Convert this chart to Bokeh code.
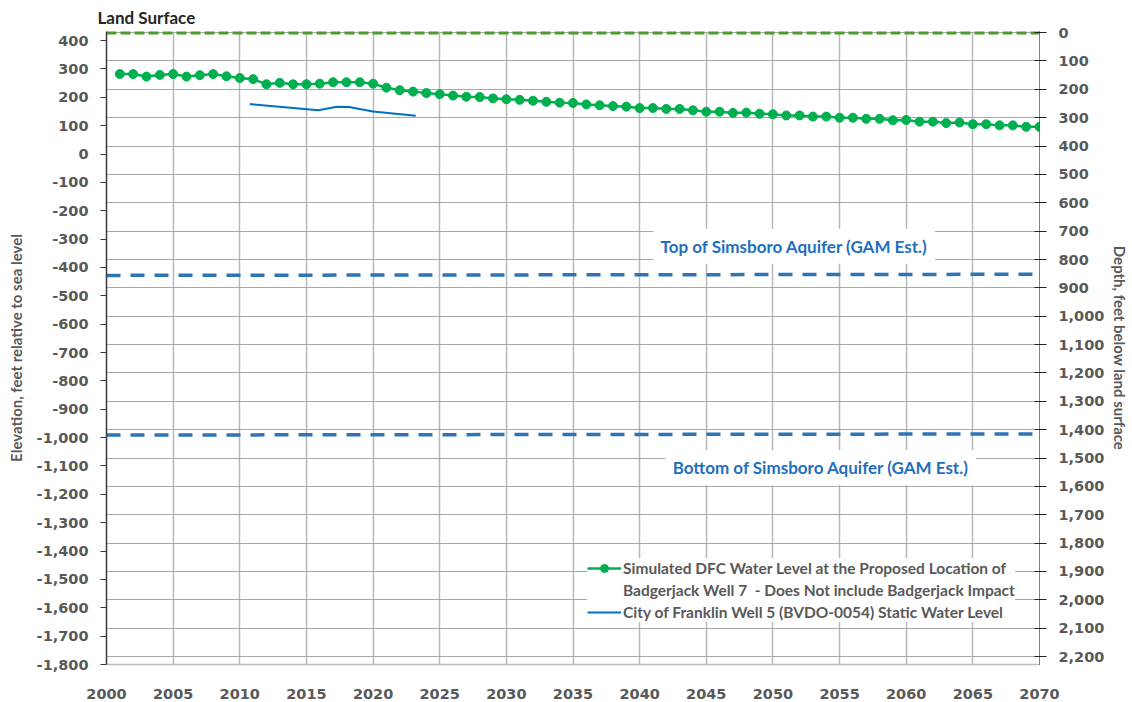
from bokeh.plotting import figure
from bokeh.models import (Range1d, LinearAxis, FixedTicker, NumeralTickFormatter,
                          Legend, LegendItem, Label, Grid)
from bokeh.embed import file_html
from bokeh.resources import INLINE

# ---------------- data ----------------
years = list(range(2001, 2071))
dfc_level = [282, 282, 273, 279, 282, 273, 278, 282, 274, 268,
             264, 246, 251, 246, 246, 248, 253, 253, 253, 248,
             234, 225, 220, 215, 211, 206, 202, 201, 196, 193,
             191, 188, 184, 181, 180, 175, 172, 169, 167, 162,
             162, 159, 159, 154, 149, 149, 145, 146, 142, 140,
             136, 136, 132, 132, 128, 128, 124, 124, 119, 120,
             114, 114, 109, 111, 105, 105, 101, 101, 96, 96]

well_years = [2010.75, 2015.9, 2017.3, 2018.2, 2020.0, 2023.2]
well_level = [176, 154, 167, 166, 150, 135]

land_surface = 428
line_years = [2000, 2070]
land_level = [428, 428]
top_simsboro = [-428, -424]
bottom_simsboro = [-991, -987]

elev_ticks = list(range(-1800, 401, 100))
depth_ticks = list(range(0, 2201, 100))
year_ticks = list(range(2000, 2071, 5))

# ---------------- styles ----------------
GREEN = "#00b050"
BLUE = "#0070c0"
DASH_BLUE = "#2e75b6"
LAND_GREEN = "#4e9a2e"
TXT = "#595959"
TICK_FONT = "DejaVu Sans"
FONT = "Lato"

y_end = 432
p = figure(width=1132, height=702, output_backend="svg", toolbar_location=None,
           x_range=Range1d(2000, 2070), y_range=Range1d(-1800, y_end),
           min_border_left=106, min_border_right=92, min_border_top=31,
           min_border_bottom=38)
p.extra_y_ranges = {"depth": Range1d(start=land_surface + 1800, end=land_surface - y_end)}
p.outline_line_color = None
p.background_fill_color = "white"

# title
p.title.text = "Land Surface"
p.title.text_font = FONT
p.title.text_font_style = "bold"
p.title.text_font_size = "17px"
p.title.text_color = "#262626"
p.title.offset = -9
p.title.standoff = 8

# x axis
xa = p.xaxis[0]
xa.ticker = FixedTicker(ticks=year_ticks)
xa.axis_line_color = "#bdbdbd"
xa.axis_line_width = 1.5
xa.major_tick_line_color = None
xa.minor_tick_line_color = None
xa.major_label_standoff = 18
xa.major_label_text_font = TICK_FONT
xa.major_label_text_font_style = "bold"
xa.major_label_text_font_size = "14.5px"
xa.major_label_text_color = TXT

# left axis
ya = p.yaxis[0]
ya.ticker = FixedTicker(ticks=elev_ticks)
ya.formatter = NumeralTickFormatter(format="0,0")
ya.axis_line_color = "#3a3a3a"
ya.axis_line_width = 1.5
ya.major_tick_line_color = "#3a3a3a"
ya.major_tick_out = 6
ya.major_tick_in = 0
ya.minor_tick_line_color = None
ya.major_label_standoff = 12
ya.major_label_text_font = TICK_FONT
ya.major_label_text_font_style = "bold"
ya.major_label_text_font_size = "14.5px"
ya.major_label_text_color = TXT
ya.axis_label = "Elevation, feet relative to sea level"
ya.axis_label_text_font = FONT
ya.axis_label_text_font_style = "bold"
ya.axis_label_text_font_size = "15px"
ya.axis_label_text_color = TXT
ya.axis_label_standoff = 9

# right axis (depth)
ra = LinearAxis(y_range_name="depth", ticker=FixedTicker(ticks=depth_ticks),
                formatter=NumeralTickFormatter(format="0,0"))
ra.axis_line_color = "black"
ra.axis_line_width = 1
ra.axis_line_dash = "1 1"
ra.major_tick_line_color = "#222222"
ra.major_tick_in = 5
ra.major_tick_out = 7
ra.minor_tick_line_color = None
ra.major_label_standoff = 12
ra.major_label_text_font = TICK_FONT
ra.major_label_text_font_style = "bold"
ra.major_label_text_font_size = "14.5px"
ra.major_label_text_color = TXT
ra.axis_label = "Depth, feet below land surface"
ra.axis_label_text_font = FONT
ra.axis_label_text_font_style = "bold"
ra.axis_label_text_font_size = "15px"
ra.axis_label_text_color = TXT
ra.axis_label_standoff = 4
p.add_layout(ra, "right")

# grids: vertical at years, horizontal at depth ticks
p.xgrid.visible = False
p.ygrid.visible = False
vgrid = Grid(dimension=0, ticker=FixedTicker(ticks=year_ticks),
             grid_line_color="#b8b8b8", grid_line_width=1.5)
hgrid = Grid(dimension=1, ticker=FixedTicker(ticks=depth_ticks), y_range_name="depth",
             grid_line_color="#a8a8a8", grid_line_width=1.2)
p.add_layout(vgrid)
p.add_layout(hgrid)

# ---------------- glyphs ----------------
p.line(line_years, land_level, line_color=LAND_GREEN, line_width=3.5, line_dash="10 4")
p.line(line_years, top_simsboro, line_color=DASH_BLUE, line_width=3.5, line_dash="14 10")
p.line(line_years, bottom_simsboro, line_color=DASH_BLUE, line_width=3.5, line_dash="14 10")

dfc_line = p.line(years, dfc_level, line_color=GREEN, line_width=2.5)
dfc_pts = p.scatter(years, dfc_level, size=9, fill_color=GREEN, line_color=GREEN)
well_line = p.line(well_years, well_level, line_color=BLUE, line_width=2)
dummy = p.line([], [], line_alpha=0)

# aquifer labels
for txt, x, y in [("Top of Simsboro Aquifer (GAM Est.)", 2051.6, -325),
                  ("Bottom of Simsboro Aquifer (GAM Est.)", 2053.6, -1106)]:
    p.add_layout(Label(x=x, y=y, text=txt, text_align="center", text_baseline="middle",
                       text_font=FONT, text_font_style="bold", text_font_size="17px",
                       text_color="#1f6fc0", background_fill_color="white",
                       background_fill_alpha=1, padding=7))

# legend
legend = Legend(items=[
    LegendItem(label="Simulated DFC Water Level at the Proposed Location of",
               renderers=[dfc_line, dfc_pts]),
    LegendItem(label="Badgerjack Well 7  - Does Not include Badgerjack Impact",
               renderers=[dummy]),
    LegendItem(label="City of Franklin Well 5 (BVDO-0054) Static Water Level",
               renderers=[well_line]),
], location=(481, 42))
legend.label_text_font = FONT
legend.label_text_font_style = "bold"
legend.label_text_font_size = "15.5px"
legend.label_text_color = TXT
legend.glyph_width = 34
legend.glyph_height = 20
legend.label_height = 20
legend.spacing = 2
legend.padding = 12
legend.margin = 0
legend.label_standoff = 2
legend.border_line_color = None
legend.background_fill_color = "white"
legend.background_fill_alpha = 1
p.add_layout(legend)

open("out.html", "w").write(file_html(p, INLINE))
